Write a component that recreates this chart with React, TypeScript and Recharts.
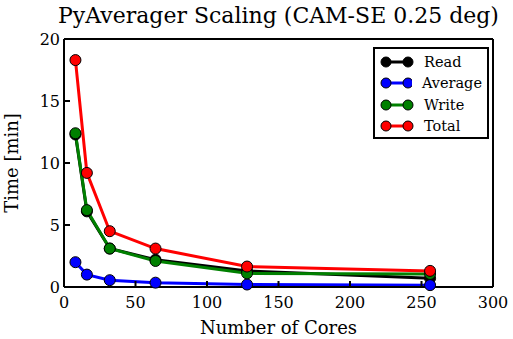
import { LineChart, Line, XAxis, YAxis } from 'recharts';

const cores = [8, 16, 32, 64, 128, 256];
const readTimes = [12.3, 6.1, 3.1, 2.2, 1.3, 0.7];
const averageTimes = [2.0, 1.0, 0.55, 0.35, 0.2, 0.15];
const writeTimes = [12.4, 6.2, 3.1, 2.1, 1.1, 1.05];
const totalTimes = [18.3, 9.2, 4.5, 3.1, 1.65, 1.3];

const xTicks = [0, 50, 100, 150, 200, 250, 300];
const yTicks = [0, 5, 10, 15, 20];

const SERIES = [
  { key: 'read', name: 'Read', color: '#000000' },
  { key: 'average', name: 'Average', color: '#0000ff' },
  { key: 'write', name: 'Write', color: '#008000' },
  { key: 'total', name: 'Total', color: '#ff0000' },
];

const FONT = '"DejaVu Serif", serif';

const data = cores.map((c, i) => ({
  cores: c,
  read: readTimes[i],
  average: averageTimes[i],
  write: writeTimes[i],
  total: totalTimes[i],
}));

// explicit <text> so the serif font is sure to stick
const XTick = (props: any) => (
  <text x={props.x} y={props.y} dy={11.4} textAnchor="middle" fontFamily={FONT} fontSize={16} fill="#000">
    {props.payload.value}
  </text>
);

const YTick = (props: any) => (
  <text x={props.x} y={props.y} dy={5.7} textAnchor="end" fontFamily={FONT} fontSize={16} fill="#000">
    {props.payload.value}
  </text>
);

// legend drawn outside recharts so it doesn't eat plot space
function LegendBox() {
  return (
    <div
      style={{
        position: 'absolute',
        left: 373,
        top: 47,
        width: 116,
        height: 92,
        border: '2px solid #000',
        background: '#fff',
        padding: '2px 5px 0 5px',
        fontFamily: FONT,
        fontSize: 14.5,
        boxSizing: 'border-box',
      }}
    >
      {SERIES.map((s) => (
        <div key={s.key} style={{ display: 'flex', alignItems: 'center', height: 21.5 }}>
          <svg width={34} height={12} style={{ marginRight: 10 }}>
            <line x1={6} y1={6} x2={28} y2={6} stroke={s.color} strokeWidth={3} />
            <circle cx={6} cy={6} r={5} fill={s.color} stroke="#000" strokeWidth={1} />
            <circle cx={28} cy={6} r={5} fill={s.color} stroke="#000" strokeWidth={1} />
          </svg>
          <span style={{ fontFamily: FONT }}>{s.name}</span>
        </div>
      ))}
    </div>
  );
}

export default function App() {
  const labelStyle = { fontFamily: FONT, fontSize: 18, fill: '#000' };
  return (
    <div
      style={{
        position: 'absolute',
        left: 0,
        top: 0,
        width: 513,
        height: 339,
        background: '#fff',
        fontFamily: FONT,
      }}
    >
      <div
        style={{
          position: 'absolute',
          left: 0,
          width: 557,
          top: 1,
          textAlign: 'center',
          fontSize: 22,
          lineHeight: '30px',
          whiteSpace: 'nowrap',
        }}
      >
        PyAverager Scaling (CAM-SE 0.25 deg)
      </div>
      <LineChart
        width={513}
        height={339}
        data={data}
        margin={{ top: 38, right: 19, bottom: 0, left: 0 }}
        style={{ fontFamily: FONT }}
      >
        <XAxis
          dataKey="cores"
          type="number"
          domain={[0, 300]}
          ticks={xTicks}
          tickSize={-6}
          tickMargin={16}
          height={52}
          stroke="#000"
          strokeWidth={2}
          tick={<XTick />}
          label={{ value: 'Number of Cores', position: 'insideBottom', offset: 5, style: labelStyle }}
        />
        <XAxis
          xAxisId="top"
          orientation="top"
          dataKey="cores"
          type="number"
          domain={[0, 300]}
          ticks={xTicks}
          tickSize={-6}
          height={1}
          stroke="#000"
          strokeWidth={2}
          tick={false}
        />
        <YAxis
          domain={[0, 20]}
          ticks={yTicks}
          tickSize={-6}
          tickMargin={10}
          width={64}
          stroke="#000"
          strokeWidth={2}
          tick={<YTick />}
          label={{ value: 'Time [min]', angle: -90, position: 'insideLeft', offset: 12, style: { ...labelStyle, textAnchor: 'middle' } }}
        />
        <YAxis
          yAxisId="right"
          orientation="right"
          domain={[0, 20]}
          ticks={yTicks}
          tickSize={-6}
          width={1}
          stroke="#000"
          strokeWidth={2}
          tick={false}
        />
        {/* invisible series so the top/right frame axes get drawn */}
        <Line
          xAxisId="top"
          yAxisId="right"
          dataKey="total"
          stroke="none"
          dot={false}
          activeDot={false}
          legendType="none"
          isAnimationActive={false}
        />
        {SERIES.map((s) => (
          <Line
            key={s.key}
            dataKey={s.key}
            name={s.name}
            stroke={s.color}
            strokeWidth={3}
            dot={{ r: 5.5, fill: s.color, stroke: '#000', strokeWidth: 1 }}
            isAnimationActive={false}
          />
        ))}
      </LineChart>
      <LegendBox />
    </div>
  );
}
